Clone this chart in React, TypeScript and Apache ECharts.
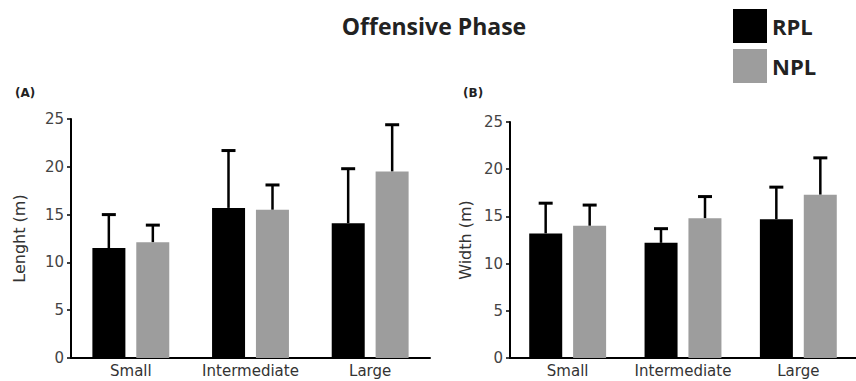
import React, { useEffect, useRef } from "react";
import * as echarts from "echarts";

const categories = ["Small", "Intermediate", "Large"];
const yTicks = [0, 5, 10, 15, 20, 25];
// Panel A: Length (m)
const lengthRPL = [11.5, 15.7, 14.1];
const lengthRPLsd = [3.5, 6.0, 5.7];
const lengthNPL = [12.1, 15.5, 19.5];
const lengthNPLsd = [1.8, 2.6, 4.9];
// Panel B: Width (m)
const widthRPL = [13.2, 12.2, 14.7];
const widthRPLsd = [3.2, 1.5, 3.4];
const widthNPL = [14.0, 14.8, 17.3];
const widthNPLsd = [2.2, 2.3, 3.9];

const BAR_W = 33;
const BAR_OFF = 22;
const AXIS_FONT = "DejaVu Sans";

function errSeries(name: string, idx: number, means: number[], sds: number[], offset: number) {
  return {
    type: "custom",
    name,
    xAxisIndex: idx,
    yAxisIndex: idx,
    z: 1,
    silent: true,
    data: means.map((m, i) => [i, m, m + sds[i]]),
    renderItem: (params: any, api: any) => {
      const c = api.value(0);
      const lo = api.coord([c, api.value(1)]);
      const hi = api.coord([c, api.value(2)]);
      const x = lo[0] + offset;
      const half = 7;
      return {
        type: "group",
        children: [
          { type: "line", shape: { x1: x, y1: lo[1], x2: x, y2: hi[1] }, style: { stroke: "#000", lineWidth: 2.5 } },
          { type: "line", shape: { x1: x - half, y1: hi[1], x2: x + half, y2: hi[1] }, style: { stroke: "#000", lineWidth: 3 } },
        ],
      };
    },
  };
}

function xAx(idx: number) {
  return {
    type: "category",
    gridIndex: idx,
    data: categories,
    axisLine: { lineStyle: { color: "#000", width: 2 } },
    axisTick: { alignWithLabel: true, length: 4, lineStyle: { color: "#000", width: 1.5 } },
    axisLabel: { interval: 0, hideOverlap: false, color: "#333", fontSize: 15, fontFamily: AXIS_FONT, margin: 5 },
  };
}

function yAx(idx: number, name: string, gap: number) {
  return {
    type: "value",
    gridIndex: idx,
    min: yTicks[0],
    max: yTicks[yTicks.length - 1],
    interval: 5,
    name,
    nameLocation: "middle",
    nameGap: gap,
    nameTextStyle: { color: "#333", fontSize: 16, fontFamily: AXIS_FONT },
    axisLine: { show: true, lineStyle: { color: "#000", width: 2 } },
    axisTick: { show: true, length: 4, lineStyle: { color: "#000", width: 1.5 } },
    axisLabel: { color: "#444", fontSize: 15, fontFamily: AXIS_FONT, margin: 7 },
    splitLine: { show: false },
  };
}

function barSeries(name: string, idx: number, data: number[], color: string) {
  return {
    type: "bar",
    name,
    xAxisIndex: idx,
    yAxisIndex: idx,
    data,
    barWidth: BAR_W,
    barGap: "33%",
    itemStyle: { color },
    z: 2,
  };
}

export default function App() {
  const ref = useRef<HTMLDivElement>(null);
  useEffect(() => {
    if (!ref.current) return;
    const chart = echarts.init(ref.current, null, { renderer: "svg" });
    chart.setOption({
      animation: false,
      backgroundColor: "#fff",
      title: {
        text: "Offensive Phase",
        left: 434,
        top: 14,
        textAlign: "center",
        padding: 0,
        textStyle: { fontFamily: "Open Sans", fontWeight: "bold", fontSize: 23, color: "#222" },
      },
      legend: {
        data: ["RPL", "NPL"],
        orient: "vertical",
        left: 733,
        top: 9,
        padding: 0,
        itemWidth: 34,
        itemHeight: 34,
        itemGap: 6,
        icon: "rect",
        textStyle: { fontFamily: "Open Sans", fontWeight: "bold", fontSize: 22, color: "#222" },
      },
      graphic: [
        { type: "text", left: 15, top: 87, style: { text: "(A)", font: "bold 12px DejaVu Sans", fill: "#222" } },
        { type: "text", left: 463, top: 87, style: { text: "(B)", font: "bold 12px DejaVu Sans", fill: "#222" } },
      ],
      grid: [
        { left: 71, right: 426, top: 119, bottom: 23 },
        { left: 510, right: -9, top: 122, bottom: 23 },
      ],
      xAxis: [xAx(0), xAx(1)],
      yAxis: [yAx(0, "Lenght (m)", 44), yAx(1, "Width (m)", 37)],
      series: [
        barSeries("RPL", 0, lengthRPL, "#000"),
        barSeries("NPL", 0, lengthNPL, "#9d9d9d"),
        barSeries("RPL", 1, widthRPL, "#000"),
        barSeries("NPL", 1, widthNPL, "#9d9d9d"),
        errSeries("errA1", 0, lengthRPL, lengthRPLsd, -BAR_OFF),
        errSeries("errA2", 0, lengthNPL, lengthNPLsd, BAR_OFF),
        errSeries("errB1", 1, widthRPL, widthRPLsd, -BAR_OFF),
        errSeries("errB2", 1, widthNPL, widthNPLsd, BAR_OFF),
      ],
    });
    return () => chart.dispose();
  }, []);
  return <div ref={ref} style={{ width: 856, height: 381, position: "absolute", left: 0, top: 0 }} />;
}
